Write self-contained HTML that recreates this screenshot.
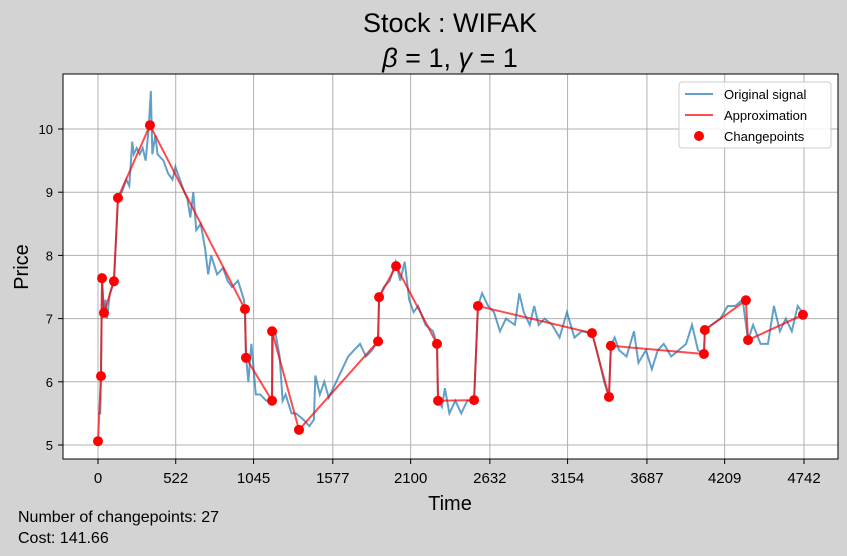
<!DOCTYPE html>
<html><head><meta charset="utf-8"><style>
html,body{margin:0;padding:0;background:#d3d3d3;}
svg{display:block;font-family:"Liberation Sans","DejaVu Sans",sans-serif;}
</style></head><body>
<svg id="chart" width="847" height="556" viewBox="0 0 847 556" xmlns="http://www.w3.org/2000/svg">
<rect x="0" y="0" width="847" height="556" fill="#d3d3d3"/>
<rect x="63" y="74" width="775" height="385" fill="#fff"/>
<g id="grid"></g>
<g id="series"></g>
<rect x="63" y="74" width="775" height="385" fill="none" stroke="#000" stroke-width="1"/>
<g id="ticks"></g>
<text x="450" y="32" text-anchor="middle" font-size="27">Stock : WIFAK</text>
<text x="450" y="67" text-anchor="middle" font-size="27"><tspan font-style="italic">β</tspan> = 1, <tspan font-style="italic">γ</tspan> = 1</text>
<text x="450" y="510" text-anchor="middle" font-size="20">Time</text>
<text x="28" y="267" text-anchor="middle" font-size="20" transform="rotate(-90 28 267)">Price</text>
<text x="18" y="522" font-size="16">Number of changepoints: 27</text>
<text x="18" y="543" font-size="16">Cost: 141.66</text>
<g>
<rect x="679" y="82" width="152" height="66" rx="3" fill="#fff" fill-opacity="0.85" stroke="#ccc"/>
<line x1="685" y1="94" x2="713" y2="94" stroke="#1f77b4" stroke-opacity="0.7" stroke-width="2"/>
<text x="724" y="99" font-size="13">Original signal</text>
<line x1="685" y1="115" x2="713" y2="115" stroke="#ff0000" stroke-opacity="0.7" stroke-width="2"/>
<text x="724" y="120" font-size="13">Approximation</text>
<circle cx="699" cy="136" r="5" fill="#ff0000"/>
<text x="724" y="141" font-size="13">Changepoints</text>
</g>
</svg>
<script>
const xTicks = [0,522,1045,1577,2100,2632,3154,3687,4209,4742];
const yTicks = [5,6,7,8,9,10];
const cpTime = [0,20,27,40,107,134,349,987,994,1169,1169,1350,1881,1888,2002,2277,2284,2526,2552,3318,3432,3445,4070,4076,4352,4366,4735];
const cpPrice = [5.06,6.09,7.64,7.09,7.59,8.91,10.06,7.15,6.38,5.7,6.8,5.24,6.64,7.34,7.83,6.6,5.7,5.71,7.2,6.77,5.76,6.57,6.44,6.82,7.29,6.66,7.06];
const sigTime = [0,15,20,27,35,50,60,80,107,120,134,160,190,210,230,240,260,280,300,320,340,355,365,385,400,440,470,500,520,550,580,600,620,640,660,690,720,740,760,800,840,870,900,940,980,987,994,1010,1030,1060,1090,1130,1169,1175,1190,1220,1240,1260,1300,1330,1380,1420,1450,1460,1490,1520,1550,1600,1640,1680,1720,1760,1800,1840,1881,1888,1920,1960,2000,2030,2060,2090,2120,2150,2200,2250,2277,2284,2310,2330,2360,2400,2440,2480,2526,2552,2580,2620,2660,2700,2740,2800,2830,2860,2900,2930,2960,3000,3050,3100,3150,3200,3250,3318,3350,3400,3432,3445,3470,3500,3550,3600,3630,3680,3720,3760,3800,3850,3900,3950,3990,4030,4070,4076,4120,4180,4230,4280,4330,4366,4400,4450,4500,4540,4580,4620,4660,4700,4742];
const sigPrice = [5.5,5.5,6.1,7.6,7.1,7.3,7.0,7.4,7.6,8.2,8.9,9.0,9.2,9.1,9.8,9.6,9.7,9.6,9.7,9.5,10.0,10.6,9.6,9.9,9.6,9.5,9.3,9.2,9.4,9.2,9.0,8.9,8.6,9.0,8.4,8.5,8.1,7.7,8.0,7.7,7.8,7.6,7.5,7.6,7.3,7.15,6.4,6.0,6.6,5.8,5.8,5.7,5.7,6.8,6.8,6.4,5.7,5.8,5.5,5.5,5.4,5.3,5.4,6.1,5.8,6.0,5.75,6.0,6.2,6.4,6.5,6.6,6.4,6.5,6.65,7.34,7.5,7.6,7.9,7.6,7.9,7.3,7.1,7.2,6.9,6.8,6.6,5.7,5.6,5.9,5.5,5.7,5.5,5.7,5.7,7.2,7.4,7.2,7.1,6.8,7.0,6.9,7.4,7.1,6.9,7.2,6.9,7.0,6.9,6.7,7.1,6.7,6.8,6.77,6.5,6.0,5.76,6.57,6.7,6.5,6.4,6.8,6.3,6.5,6.2,6.5,6.6,6.4,6.5,6.6,6.9,6.5,6.44,6.82,6.9,7.0,7.2,7.2,7.3,6.66,6.9,6.6,6.6,7.2,6.8,7.0,6.8,7.2,7.06];

const NS="http://www.w3.org/2000/svg";
const xs = t => 98 + (t-0)*(706/4742);
const ys = p => 445 - (p-5)*63.2;
function mk(tag, parent){const e=document.createElementNS(NS,tag);document.getElementById(parent).appendChild(e);return e;}

xTicks.forEach(t=>{
  const g=mk('line','grid');
  
  
  g.setAttribute('x1',xs(t));g.setAttribute('x2',xs(t));g.setAttribute('y1',74);g.setAttribute('y2',459);
  g.setAttribute('stroke','#b0b0b0');g.setAttribute('stroke-width','1');
  const tk=mk('line','ticks');
  
  
  tk.setAttribute('x1',xs(t));tk.setAttribute('x2',xs(t));tk.setAttribute('y1',459);tk.setAttribute('y2',464);tk.setAttribute('stroke','#000');
  const l=mk('text','ticks');
  
  
  l.setAttribute('x',xs(t));l.setAttribute('y',483);l.setAttribute('text-anchor','middle');l.setAttribute('font-size','15');
  l.textContent=t;
});
yTicks.forEach(p=>{
  const g=mk('line','grid');
  
  
  g.setAttribute('x1',63);g.setAttribute('x2',838);g.setAttribute('y1',ys(p));g.setAttribute('y2',ys(p));
  g.setAttribute('stroke','#b0b0b0');g.setAttribute('stroke-width','1');
  const tk=mk('line','ticks');
  
  
  tk.setAttribute('x1',58);tk.setAttribute('x2',63);tk.setAttribute('y1',ys(p));tk.setAttribute('y2',ys(p));tk.setAttribute('stroke','#000');
  const l=mk('text','ticks');
  
  
  l.setAttribute('x',53);l.setAttribute('y',ys(p)+5);l.setAttribute('text-anchor','end');l.setAttribute('font-size','13');
  l.textContent=p;
});
const sig=mk('polyline','series');


sig.setAttribute('points',sigTime.map((t,i)=>xs(t)+','+ys(sigPrice[i])).join(' '));
sig.setAttribute('fill','none');sig.setAttribute('stroke','#1f77b4');sig.setAttribute('stroke-opacity','0.7');sig.setAttribute('stroke-width','2');
const ap=mk('polyline','series');


ap.setAttribute('points',cpTime.map((t,i)=>xs(t)+','+ys(cpPrice[i])).join(' '));
ap.setAttribute('fill','none');ap.setAttribute('stroke','#ff0000');ap.setAttribute('stroke-opacity','0.7');ap.setAttribute('stroke-width','2');
cpTime.forEach((t,i)=>{
  const c=mk('circle','series');
  
  
  c.setAttribute('cx',xs(t));c.setAttribute('cy',ys(cpPrice[i]));c.setAttribute('r','5');c.setAttribute('fill','#ff0000');
});
</script>
</body></html>
